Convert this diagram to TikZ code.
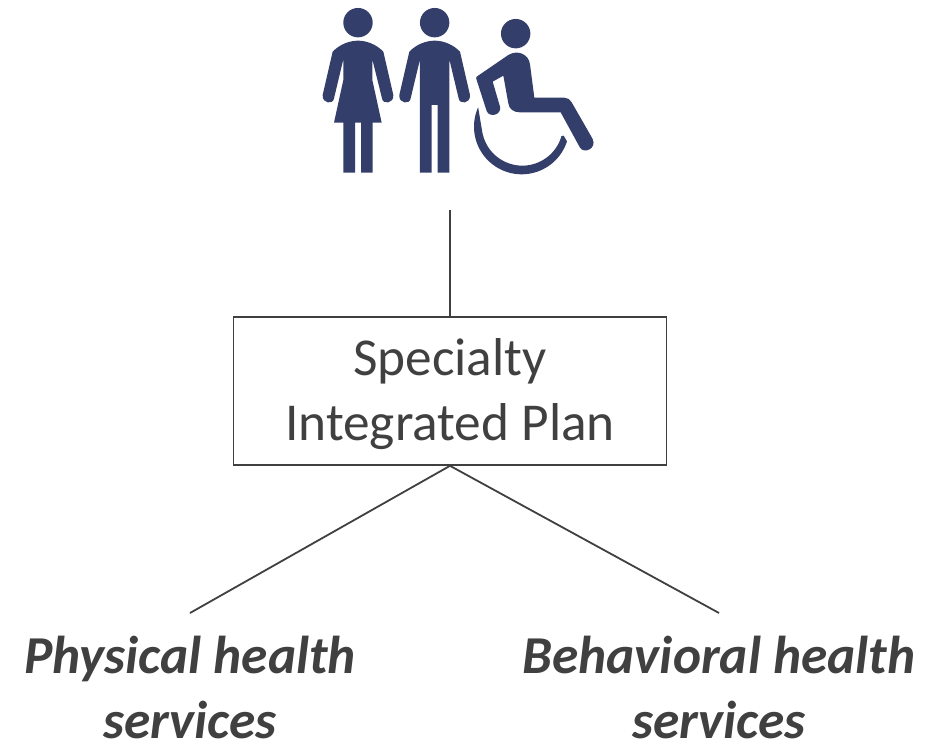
\documentclass[tikz,border=0pt]{standalone}
\usepackage{fontspec}
\setmainfont{Carlito}
\definecolor{icon}{HTML}{333F6A}
\definecolor{ink}{HTML}{404040}
\tikzset{
  conn/.style={draw=ink,line width=1.8pt},
  boxed/.style={draw=ink,line width=1.6pt,minimum width=433pt,minimum height=148pt,inner sep=0pt},
  lbl/.style={text=ink,align=center,font=\fontsize{53.3}{65}\selectfont,inner sep=0pt},
  lblb/.style={lbl,font=\fontsize{53.3}{65}\selectfont\bfseries\itshape}
}
\begin{document}
\begin{tikzpicture}[x=1pt,y=-1pt]
\useasboundingbox (0,0) rectangle (944,741);
\fill[white] (0,0) rectangle (944,741);
% woman and man (zoom px mapped)
\begin{scope}[shift={(310,0)},x=0.3333pt,y=-0.3333pt]
 \fill[icon] (144,68) circle[radius=14.7pt];
 \fill[icon] (68,155) .. controls (90,132) and (120,122) .. (144,122) .. controls (168,122) and (198,132) .. (220,155)
   -- (250,285) .. controls (252,312) and (218,314) .. (216,295) -- (187,178) -- (187,240) -- (215,368) -- (188,368) -- (188,518) -- (153,518) -- (153,368) -- (135,368) -- (135,518) -- (100,518) -- (100,368) -- (72,368) -- (100,240) -- (100,178) -- (72,295) .. controls (70,314) and (36,312) .. (38,285) -- cycle;
 \fill[icon] (374,68) circle[radius=14.7pt];
 \fill[icon] (298,155) .. controls (320,132) and (350,122) .. (374,122) .. controls (398,122) and (428,132) .. (450,155)
   -- (480,285) .. controls (482,312) and (448,314) .. (446,295) -- (418,178) -- (418,518) -- (383,518) -- (383,315) -- (365,315) -- (365,518) -- (330,518) -- (330,178) -- (302,295) .. controls (300,314) and (266,312) .. (268,285) -- cycle;
\end{scope}
% wheelchair user
\begin{scope}[shift={(465,5)},x=0.3333pt,y=-0.3333pt]
 \fill[icon] (152,86) circle[radius=14.7pt];
 \fill[icon] (35,215) -- (130,150) .. controls (160,132) and (192,150) .. (195,178) -- (208,278) -- (298,278) .. controls (308,278) and (316,284) .. (320,292) -- (383,402) .. controls (396,430) and (358,448) .. (345,428) -- (287,322) -- (165,322) .. controls (145,322) and (132,312) .. (130,295) -- (115,212) -- (83,230) -- (105,305) .. controls (110,332) and (72,338) .. (65,318) -- (35,225) .. controls (33,220) and (33,217) .. (35,215) -- cycle;
 \fill[icon] plot[domain=204:18,samples=50] ({170+143*cos(\x)},{365+143*sin(\x)}) -- (296,392) -- plot[domain=16:170,samples=50] ({172+122*cos(\x)},{360+122*sin(\x)}) -- cycle;
\end{scope}
\node[boxed] (plan) at (450,391) {};
\node[lbl,anchor=base] (plantext) at (450,440) {Specialty\\Integrated Plan};
\coordinate (people) at (450,210);
\coordinate (left) at (190,613);
\coordinate (right) at (719,613);
\draw[conn] (people) -- (plan.north);
\draw[conn] (plan.south) -- (left);
\draw[conn] (plan.south) -- (right);
\node[lblb,anchor=base] (phys) at (190,738) {Physical health\\services};
\node[lblb,anchor=base] (behav) at (719,738) {Behavioral health\\services};
\end{tikzpicture}
\end{document}
